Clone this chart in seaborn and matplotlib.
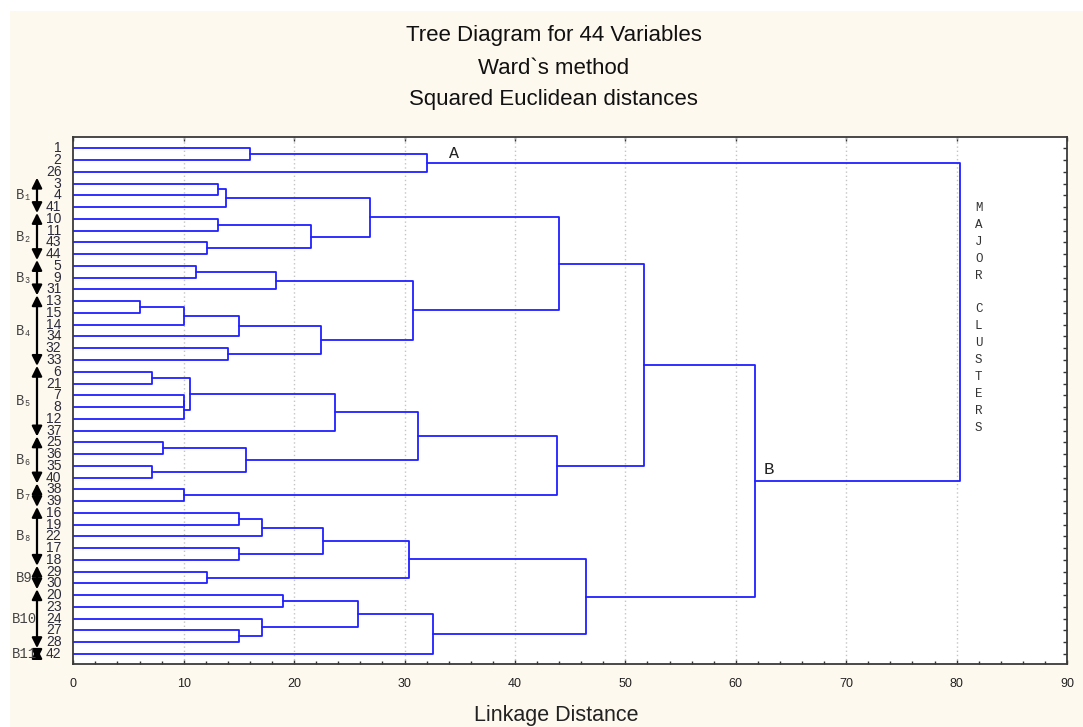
import matplotlib
matplotlib.use("Agg")
import matplotlib.pyplot as plt
import matplotlib.transforms as mtransforms
from matplotlib.patches import Rectangle
from matplotlib.ticker import MultipleLocator
import seaborn as sns
import pandas as pd

# ---------------- data ----------------
leaf_order = ["1", "2", "26", "3", "4", "41", "10", "11", "43", "44", "5", "9", "31",
              "13", "15", "14", "34", "32", "33", "6", "21", "7", "8", "12", "37",
              "25", "36", "35", "40", "38", "39", "16", "19", "22", "17", "18",
              "29", "30", "20", "23", "24", "27", "28", "42"]

merge_name = ["c1", "c2", "c3", "c4", "c5", "c6", "c7", "c8", "c9", "c10",
              "c11", "c12", "c13", "c14", "c15", "c16", "c17", "c18", "c19", "c20",
              "c21", "c22", "c23", "c24", "c25", "c26", "c27", "c28", "c29", "c30",
              "c31", "c32", "c33", "c34", "c35", "c36", "c37", "c38", "c39", "c40",
              "c41", "c42", "c43"]
merge_left = ["1", "c1", "3", "c3", "10", "43", "c5", "c4", "5", "c9",
              "13", "c11", "c12", "32", "c13", "c10", "c8", "6", "7", "c19",
              "c18", "c21", "25", "35", "c23", "c22", "38", "c26", "c17", "16",
              "c30", "17", "c31", "29", "c33", "20", "27", "24", "c36", "c39",
              "c35", "c29", "c2"]
merge_right = ["2", "26", "4", "41", "11", "44", "c6", "c7", "9", "31",
               "15", "14", "34", "33", "c14", "c15", "c16", "21", "8", "12",
               "c20", "37", "36", "40", "c24", "c25", "39", "c27", "c28", "19",
               "22", "18", "c32", "30", "c34", "23", "28", "c37", "c38", "42",
               "c40", "c41", "c42"]
merge_height = [16.0, 32.0, 13.1, 13.8, 13.1, 12.1, 21.5, 26.9, 11.1, 18.4,
                6.0, 10.0, 15.0, 14.0, 22.4, 30.8, 44.0, 7.1, 10.0, 10.0,
                10.6, 23.7, 8.1, 7.1, 15.6, 31.2, 10.0, 43.8, 51.7, 15.0,
                17.1, 15.0, 22.6, 12.1, 30.4, 19.0, 15.0, 17.1, 25.8, 32.6,
                46.4, 61.7, 80.3]

group_labels = ["B\u2081", "B\u2082", "B\u2083", "B\u2084", "B\u2085", "B\u2086",
                "B\u2087", "B\u2088", "B9", "B10", "B11"]
group_first = ["3", "10", "5", "13", "6", "25", "38", "16", "29", "20", "42"]
group_last = ["41", "44", "31", "33", "37", "40", "39", "18", "30", "28", "42"]

title_lines = ["Tree Diagram for 44 Variables", "Ward`s method", "Squared Euclidean distances"]
x_ticks = [0, 10, 20, 30, 40, 50, 60, 70, 80, 90]

# ---------------- build segments ----------------
pos = {lab: float(i) for i, lab in enumerate(leaf_order)}
hgt = {lab: 0.0 for lab in leaf_order}
rows = []
for k, (nm, a, b, h) in enumerate(zip(merge_name, merge_left, merge_right, merge_height)):
    ya, yb = pos[a], pos[b]
    for (xx, yy) in [(hgt[a], ya), (h, ya), (h, yb), (hgt[b], yb)]:
        rows.append({"seg": k, "x": xx, "y": yy})
    pos[nm] = (ya + yb) / 2.0
    hgt[nm] = h
seg_df = pd.DataFrame(rows)

# ---------------- figure ----------------
sns.set_theme(style="white")
plt.rcParams["font.family"] = ["Liberation Sans", "DejaVu Sans"]

W, H = 1083, 727
fig = plt.figure(figsize=(W / 100, H / 100), dpi=100, facecolor="white")
fig.patches.append(Rectangle((10 / W, 0), 1 - 10 / W, (H - 11) / H,
                             transform=fig.transFigure, facecolor="#fef9ee",
                             edgecolor="none", zorder=-10))

ax_l, ax_r, ax_t, ax_b = 73.3, 1067.0, 136.7, 664.3
ax = fig.add_axes([ax_l / W, 1 - ax_b / H, (ax_r - ax_l) / W, (ax_b - ax_t) / H])
ax.set_facecolor("white")

sns.lineplot(data=seg_df, x="x", y="y", units="seg", estimator=None, sort=False,
             color="#2020ff", lw=1.3, ax=ax, zorder=3)

ax.set_xlim(0, 90)
ax.set_ylim(43.88, -0.99)
ax.set_xlabel("")
ax.set_ylabel("")

# grid
for gx in x_ticks[1:-1]:
    ax.axvline(gx, color="#c4c4c4", lw=1.0, ls=(0, (1, 2)), zorder=1)

ax.set_xticks(x_ticks)
ax.set_xticklabels([str(t) for t in x_ticks], fontsize=9,
                   family=["Liberation Sans Narrow", "Liberation Sans"], color="#222222")
ax.xaxis.set_minor_locator(MultipleLocator(2))
ax.tick_params(axis="x", which="major", direction="in", length=3, width=1,
               top=True, bottom=True, pad=10, color="#333333")
ax.tick_params(axis="x", which="minor", direction="in", length=2, width=1,
               top=False, bottom=True, color="#333333")

ax.set_yticks(range(len(leaf_order)))
ax.set_yticklabels(leaf_order, fontsize=10, color="#2a2a3a")
ax.tick_params(axis="y", which="major", direction="in", length=3, width=1,
               left=False, right=True, labelleft=True, labelright=False,
               pad=8.5, color="#333333")
for lab in ax.get_yticklabels():
    lab.set_va("center")

for sp in ax.spines.values():
    sp.set_visible(True)
    sp.set_color("#3a3a3a")
    sp.set_linewidth(1.3)

# titles
for ty, line in zip([35, 68, 100], title_lines):
    fig.text(553.5 / W, 1 - ty / H, line, ha="center", va="center",
             fontsize=16, color="#111111")

ax.text((556 - ax_l) / (ax_r - ax_l), (ax_b - 715) / (ax_b - ax_t), "Linkage Distance",
        transform=ax.transAxes, ha="center", va="center", fontsize=15.5,
        family=["Liberation Sans Narrow", "Liberation Sans"], color="#222222")

# annotations A / B / MAJOR CLUSTERS
mono = ["Liberation Mono", "DejaVu Sans Mono"]
ax.text(34.5, pos["c2"] - 0.15, "A", ha="center", va="bottom", fontsize=12,
        family=mono, color="#222222", zorder=4)
ax.text(63.0, pos["c42"] - 0.3, "B", ha="center", va="bottom", fontsize=12.5,
        family=mono, color="#222222", zorder=4)
letters = "MAJOR CLUSTERS"
step = 16.9 / 11.76
y0 = (208 - 148.3) / 11.76
for i, ch in enumerate(letters):
    if ch != " ":
        ax.text(82.0, y0 + i * step, ch, ha="center", va="center", fontsize=9,
                family=mono, color="#333333", zorder=4)

# group arrows and labels
trans = mtransforms.blended_transform_factory(ax.transAxes, ax.transData)
ax_w = ax_r - ax_l
x_arrow = (37 - ax_l) / ax_w
x_glab = (24 - ax_l) / ax_w
for lab, f, l in zip(group_labels, group_first, group_last):
    i0 = leaf_order.index(f) - 0.5
    i1 = min(leaf_order.index(l) + 0.5, 43.75)
    ax.annotate("", xy=(x_arrow, i0), xytext=(x_arrow, i1), xycoords=trans,
                textcoords=trans, annotation_clip=False,
                arrowprops=dict(arrowstyle="<|-|>,head_length=0.6,head_width=0.3",
                                color="black", lw=1.6, shrinkA=0, shrinkB=0,
                                mutation_scale=10))
    ax.text(x_glab, (i0 + i1) / 2, lab, transform=trans, ha="center", va="center",
            fontsize=10, family=mono, color="#444444", clip_on=False)

fig.savefig("out.png", dpi=100, facecolor=fig.get_facecolor())
